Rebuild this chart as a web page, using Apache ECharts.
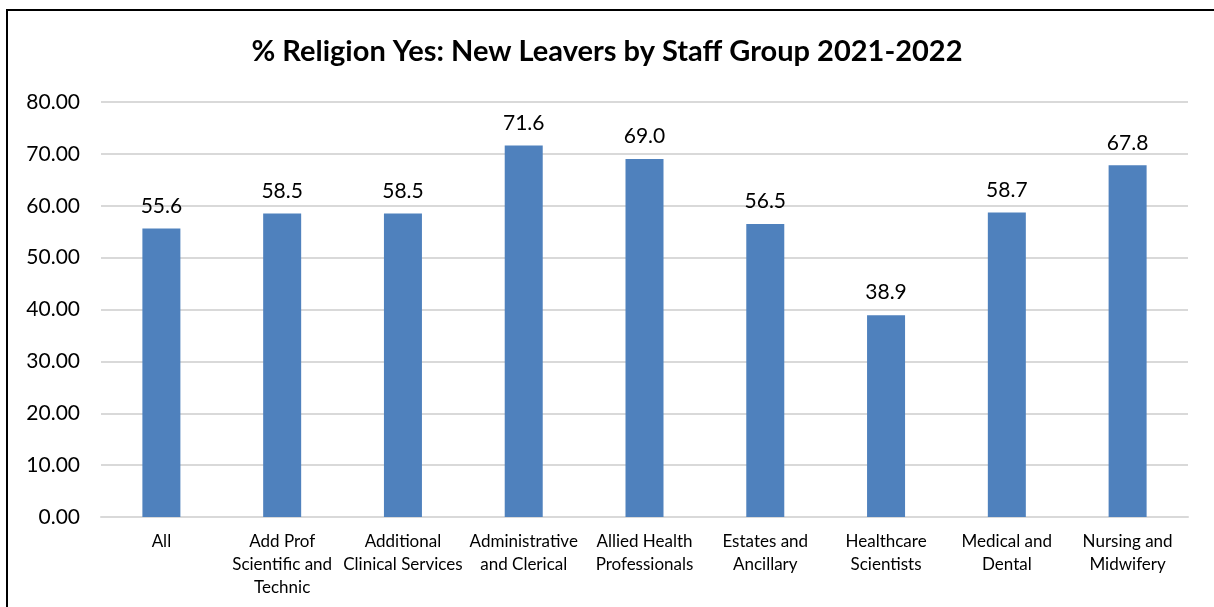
<!DOCTYPE html>
<html>
<head>
<meta charset="utf-8">
<script src="https://cdn.jsdelivr.net/npm/echarts@6/dist/echarts.min.js"></script>
<style>
  html, body { margin: 0; padding: 0; background: #fff; }
  #chart { width: 1214px; height: 607px; }
</style>
</head>
<body>
<div id="chart"></div>
<script>
const chartTitle = '% Religion Yes: New Leavers by Staff Group 2021-2022';
const categories = [
  'All',
  'Add Prof\nScientific and\nTechnic',
  'Additional\nClinical Services',
  'Administrative\nand Clerical',
  'Allied Health\nProfessionals',
  'Estates and\nAncillary',
  'Healthcare\nScientists',
  'Medical and\nDental',
  'Nursing and\nMidwifery'
];
const values = [55.6, 58.5, 58.5, 71.6, 69.0, 56.5, 38.9, 58.7, 67.8];
const yTicks = { min: 0, max: 80, interval: 10 };

const font = 'Lato, "Open Sans", sans-serif';
const chart = echarts.init(document.getElementById('chart'));
chart.setOption({
  animation: false,
  backgroundColor: '#ffffff',
  title: {
    text: chartTitle,
    left: 'center',
    top: 32,
    textStyle: { fontFamily: font, fontSize: 29, fontWeight: 'bold', color: '#000' }
  },
  graphic: [{
    type: 'polyline',
    shape: { points: [[7, 607], [7, 10], [1214, 10]] },
    style: { stroke: '#000', lineWidth: 2, fill: null }
  }],
  grid: { left: 101, right: 26, top: 102, bottom: 90 },
  xAxis: {
    type: 'category',
    data: categories,
    axisLine: { show: true, lineStyle: { color: '#d9d9d9', width: 2 } },
    axisTick: { show: false },
    axisLabel: {
      interval: 0,
      margin: 13,
      fontFamily: font,
      fontSize: 17,
      lineHeight: 23,
      color: '#000'
    }
  },
  yAxis: {
    type: 'value',
    min: yTicks.min,
    max: yTicks.max,
    interval: yTicks.interval,
    axisLine: { show: false },
    axisTick: { show: false },
    splitLine: { lineStyle: { color: '#d9d9d9', width: 2 } },
    axisLabel: {
      margin: 21,
      fontFamily: font,
      fontSize: 21,
      color: '#000',
      formatter: v => v.toFixed(2)
    }
  },
  series: [{
    type: 'bar',
    data: values,
    barWidth: 38,
    itemStyle: { color: '#4f81bd' },
    label: {
      show: true,
      position: 'top',
      distance: 12,
      fontFamily: font,
      fontSize: 21,
      color: '#000',
      formatter: p => p.value.toFixed(1)
    }
  }]
});
</script>
</body>
</html>
